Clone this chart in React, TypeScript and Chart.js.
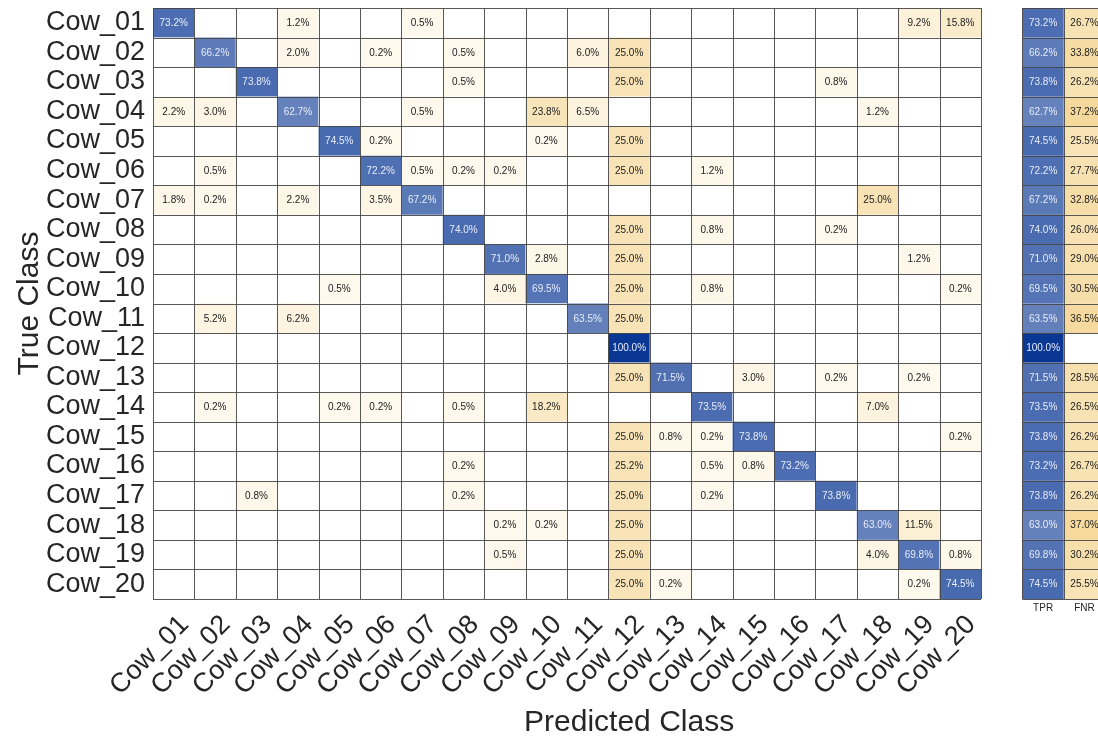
import React, { useEffect, useRef } from "react";
import { Chart, registerables } from "chart.js";

Chart.register(...registerables);

const CLASS_LABELS = [
  "Cow_01", "Cow_02", "Cow_03", "Cow_04", "Cow_05", "Cow_06", "Cow_07", "Cow_08", "Cow_09", "Cow_10",
  "Cow_11", "Cow_12", "Cow_13", "Cow_14", "Cow_15", "Cow_16", "Cow_17", "Cow_18", "Cow_19", "Cow_20",
];
const RATE_LABELS = ["TPR", "FNR"];

// confusion matrix rows (true class), values in % per predicted class
const row01 = [73.2, 0, 0, 1.2, 0, 0, 0.5, 0, 0, 0, 0, 0, 0, 0, 0, 0, 0, 0, 9.2, 15.8];
const row02 = [0, 66.2, 0, 2.0, 0, 0.2, 0, 0.5, 0, 0, 6.0, 25.0, 0, 0, 0, 0, 0, 0, 0, 0];
const row03 = [0, 0, 73.8, 0, 0, 0, 0, 0.5, 0, 0, 0, 25.0, 0, 0, 0, 0, 0.8, 0, 0, 0];
const row04 = [2.2, 3.0, 0, 62.7, 0, 0, 0.5, 0, 0, 23.8, 6.5, 0, 0, 0, 0, 0, 0, 1.2, 0, 0];
const row05 = [0, 0, 0, 0, 74.5, 0.2, 0, 0, 0, 0.2, 0, 25.0, 0, 0, 0, 0, 0, 0, 0, 0];
const row06 = [0, 0.5, 0, 0, 0, 72.2, 0.5, 0.2, 0.2, 0, 0, 25.0, 0, 1.2, 0, 0, 0, 0, 0, 0];
const row07 = [1.8, 0.2, 0, 2.2, 0, 3.5, 67.2, 0, 0, 0, 0, 0, 0, 0, 0, 0, 0, 25.0, 0, 0];
const row08 = [0, 0, 0, 0, 0, 0, 0, 74.0, 0, 0, 0, 25.0, 0, 0.8, 0, 0, 0.2, 0, 0, 0];
const row09 = [0, 0, 0, 0, 0, 0, 0, 0, 71.0, 2.8, 0, 25.0, 0, 0, 0, 0, 0, 0, 1.2, 0];
const row10 = [0, 0, 0, 0, 0.5, 0, 0, 0, 4.0, 69.5, 0, 25.0, 0, 0.8, 0, 0, 0, 0, 0, 0.2];
const row11 = [0, 5.2, 0, 6.2, 0, 0, 0, 0, 0, 0, 63.5, 25.0, 0, 0, 0, 0, 0, 0, 0, 0];
const row12 = [0, 0, 0, 0, 0, 0, 0, 0, 0, 0, 0, 100.0, 0, 0, 0, 0, 0, 0, 0, 0];
const row13 = [0, 0, 0, 0, 0, 0, 0, 0, 0, 0, 0, 25.0, 71.5, 0, 3.0, 0, 0.2, 0, 0.2, 0];
const row14 = [0, 0.2, 0, 0, 0.2, 0.2, 0, 0.5, 0, 18.2, 0, 0, 0, 73.5, 0, 0, 0, 7.0, 0, 0];
const row15 = [0, 0, 0, 0, 0, 0, 0, 0, 0, 0, 0, 25.0, 0.8, 0.2, 73.8, 0, 0, 0, 0, 0.2];
const row16 = [0, 0, 0, 0, 0, 0, 0, 0.2, 0, 0, 0, 25.2, 0, 0.5, 0.8, 73.2, 0, 0, 0, 0];
const row17 = [0, 0, 0.8, 0, 0, 0, 0, 0.2, 0, 0, 0, 25.0, 0, 0.2, 0, 0, 73.8, 0, 0, 0];
const row18 = [0, 0, 0, 0, 0, 0, 0, 0, 0.2, 0.2, 0, 25.0, 0, 0, 0, 0, 0, 63.0, 11.5, 0];
const row19 = [0, 0, 0, 0, 0, 0, 0, 0, 0.5, 0, 0, 25.0, 0, 0, 0, 0, 0, 4.0, 69.8, 0.8];
const row20 = [0, 0, 0, 0, 0, 0, 0, 0, 0, 0, 0, 25.0, 0.2, 0, 0, 0, 0, 0, 0.2, 74.5];

const MATRIX = [
  row01, row02, row03, row04, row05, row06, row07, row08, row09, row10,
  row11, row12, row13, row14, row15, row16, row17, row18, row19, row20,
];

const TPR = [73.2, 66.2, 73.8, 62.7, 74.5, 72.2, 67.2, 74.0, 71.0, 69.5, 63.5, 100.0, 71.5, 73.5, 73.8, 73.2, 73.8, 63.0, 69.8, 74.5];
const FNR = [26.7, 33.8, 26.2, 37.2, 25.5, 27.7, 32.8, 26.0, 29.0, 30.5, 36.5, 0, 28.5, 26.5, 26.2, 26.7, 26.2, 37.0, 30.2, 25.5];

const X_LABELS = [...CLASS_LABELS, "", ...RATE_LABELS];

const FONT = '"Liberation Sans", Arial, Helvetica, sans-serif';
const TEXT = "#262626";

function blue(v: number) {
  const t = v / 100;
  const r = Math.round(255 + (10 - 255) * t);
  const g = Math.round(255 + (55 - 255) * t);
  const b = Math.round(255 + (148 - 255) * t);
  return `rgb(${r},${g},${b})`;
}
function sand(v: number) {
  const t = Math.min(v / 40, 1);
  const r = Math.round(254 + (244 - 254) * t);
  const g = Math.round(249 + (214 - 249) * t);
  const b = Math.round(237 + (150 - 237) * t);
  return `rgb(${r},${g},${b})`;
}

const cellsPlugin = {
  id: "cmCells",
  beforeDatasetsDraw(chart: any) {
    const { ctx } = chart;
    const x = chart.scales.x;
    const y = chart.scales.y;
    const nR = CLASS_LABELS.length;
    const nC = CLASS_LABELS.length;
    const rateStart = nC + 1;
    const edgeX = (i: number) => x.getPixelForValue(i);
    const edgeY = (i: number) => y.getPixelForValue(i);
    ctx.save();
    const cells: any[] = [];
    for (let r = 0; r < nR; r++) {
      for (let c = 0; c < nC; c++) {
        const v = MATRIX[r][c];
        cells.push({ c, r, v, isBlue: r === c });
      }
      cells.push({ c: rateStart, r, v: TPR[r], isBlue: true });
      cells.push({ c: rateStart + 1, r, v: FNR[r], isBlue: false });
    }
    for (const cell of cells) {
      const x0 = edgeX(cell.c - 0.5);
      const x1 = edgeX(cell.c + 0.5);
      const y0 = edgeY(cell.r - 0.5);
      const y1 = edgeY(cell.r + 0.5);
      ctx.fillStyle = cell.v > 0 ? (cell.isBlue ? blue(cell.v) : sand(cell.v)) : "#ffffff";
      ctx.fillRect(x0, y0, x1 - x0, y1 - y0);
    }
    ctx.strokeStyle = "rgba(70,70,70,0.9)";
    ctx.lineWidth = 1;
    const crisp = (p: number) => Math.round(p) + 0.5;
    const drawBlock = (c0: number, c1: number) => {
      ctx.beginPath();
      for (let c = c0; c <= c1 + 1; c++) {
        const px = crisp(edgeX(c - 0.5));
        ctx.moveTo(px, edgeY(-0.5));
        ctx.lineTo(px, edgeY(nR - 0.5));
      }
      for (let r = 0; r <= nR; r++) {
        const py = crisp(edgeY(r - 0.5));
        ctx.moveTo(edgeX(c0 - 0.5), py);
        ctx.lineTo(edgeX(c1 + 0.5), py);
      }
      ctx.stroke();
    };
    drawBlock(0, nC - 1);
    drawBlock(rateStart, rateStart + 1);
    ctx.font = `10px ${FONT}`;
    ctx.textAlign = "center";
    ctx.textBaseline = "middle";
    for (const cell of cells) {
      if (!(cell.v > 0)) continue;
      ctx.fillStyle = cell.isBlue ? "#e6ecf7" : "#222222";
      ctx.fillText(`${cell.v.toFixed(1)}%`, x.getPixelForValue(cell.c), y.getPixelForValue(cell.r) + 0.5);
    }
    ctx.restore();
  },
};

export default function App() {
  const ref = useRef<HTMLCanvasElement | null>(null);
  useEffect(() => {
    document.body.style.margin = "0";
    document.body.style.overflow = "hidden";
    if (!ref.current) return;
    const chart = new Chart(ref.current, {
      type: "scatter",
      data: { datasets: [] },
      options: {
        animation: false,
        responsive: false,
        layout: { padding: { top: 8, right: 0.8, bottom: 0, left: 0 } },
        plugins: { legend: { display: false }, tooltip: { enabled: false } },
        scales: {
          x: {
            type: "category",
            labels: X_LABELS,
            offset: true,
            position: "bottom",
            weight: 1,
            grid: { display: false, drawTicks: false },
            border: { display: false },
            ticks: {
              autoSkip: false,
              minRotation: 45,
              maxRotation: 45,
              padding: 10,
              labelOffset: 11,
              color: TEXT,
              font: { family: FONT, size: 27 },
              callback: (_v: any, i: number) => (i < CLASS_LABELS.length ? X_LABELS[i] : ""),
            },
            title: {
              display: true,
              text: "Predicted Class",
              color: TEXT,
              font: { family: FONT, size: 30, lineHeight: 1 },
              padding: { top: 0, bottom: 0 },
            },
            afterFit: (s: any) => {
              s.height = 139;
              s.paddingLeft = 0;
              s.paddingRight = 0;
            },
          },
          x2: {
            type: "category",
            axis: "x",
            labels: X_LABELS,
            offset: true,
            position: { y: CLASS_LABELS.length - 0.5 },
            grid: { display: false, drawTicks: false },
            border: { display: false },
            ticks: {
              autoSkip: false,
              minRotation: 0,
              maxRotation: 0,
              padding: 3,
              color: TEXT,
              font: { family: FONT, size: 10 },
              callback: (_v: any, i: number) => (i > CLASS_LABELS.length ? X_LABELS[i] : ""),
            },
            afterFit: (s: any) => {
              s.paddingLeft = 0;
              s.paddingRight = 0;
            },
          },
          y: {
            type: "category",
            labels: CLASS_LABELS,
            offset: true,
            grid: { display: false, drawTicks: false },
            border: { display: false },
            ticks: {
              autoSkip: false,
              padding: 8,
              color: TEXT,
              font: { family: FONT, size: 27 },
            },
            title: {
              display: true,
              text: "True Class",
              color: TEXT,
              font: { family: FONT, size: 30, lineHeight: 1 },
              padding: { top: 15, bottom: 0 },
            },
            afterFit: (s: any) => {
              s.width = 153;
              s.paddingTop = 0;
              s.paddingBottom = 0;
            },
          },
        },
      } as any,
      plugins: [cellsPlugin],
    });
    return () => chart.destroy();
  }, []);
  return (
    <div style={{ position: "relative", width: 1098, height: 738, overflow: "hidden", background: "#fff" }}>
      <canvas ref={ref} width={1106} height={738} style={{ display: "block" }} />
    </div>
  );
}
